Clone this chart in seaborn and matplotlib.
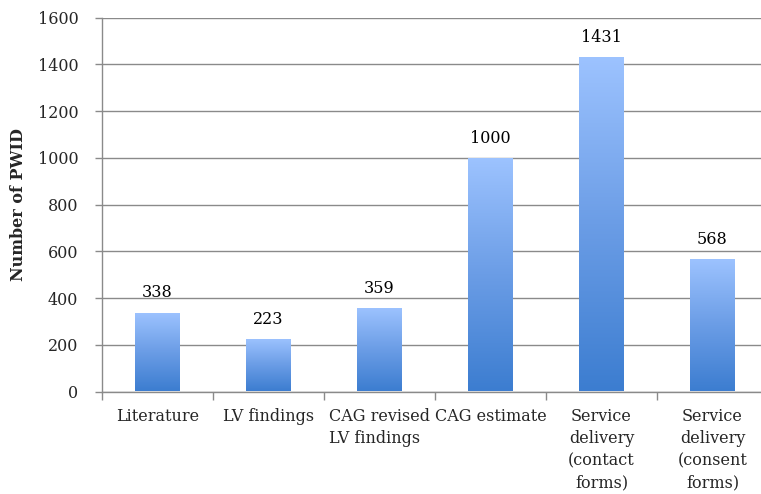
import numpy as np
import pandas as pd
import matplotlib
matplotlib.use("Agg")
import matplotlib.pyplot as plt
import seaborn as sns
from matplotlib.colors import LinearSegmentedColormap

categories = ["Literature", "LV findings", "CAG revised\nLV findings", "CAG estimate",
              "Service\ndelivery\n(contact\nforms)", "Service\ndelivery\n(consent\nforms)"]
values = [338, 223, 359, 1000, 1431, 568]
yticks = [0, 200, 400, 600, 800, 1000, 1200, 1400, 1600]

sns.set_theme(style="white")
plt.rcParams['font.family'] = ['DejaVu Serif']
plt.rcParams['font.size'] = 11.5

df = pd.DataFrame({"cat": categories, "val": values})

fig = plt.figure(figsize=(7.61, 4.94), dpi=100)
ax = fig.add_axes([102/761, (494-391.5)/494, 666/761, 373.8/494])

sns.barplot(data=df, x="cat", y="val", ax=ax, width=0.405, color="#6a9be6", saturation=1)

cmap = LinearSegmentedColormap.from_list("g", ["#3c7dd0", "#6b9de6", "#9dc3ff"])
grad = np.linspace(0, 1, 256).reshape(-1, 1)
for p in ax.patches:
    x0, y0 = p.get_x(), p.get_y()
    w, h = p.get_width(), p.get_height()
    im = ax.imshow(grad, cmap=cmap, origin="lower", aspect="auto",
                   extent=[x0, x0 + w, y0, y0 + h], zorder=2)
    im.set_clip_path(p)
    p.set_facecolor("none")
    p.set_edgecolor("none")
    ax.annotate(f"{int(h)}", (x0 + w / 2, h), xytext=(0, 8), textcoords="offset points",
                ha="center", va="bottom", fontsize=11.5, color="black")

ax.set_xlim(-0.5, 5.5)
ax.set_ylim(0, 1600)
ax.set_yticks(yticks)
ax.set_yticklabels([str(t) for t in yticks])
ax.yaxis.grid(True, color="#8a8a8a", linewidth=1)
ax.set_axisbelow(True)

ax.set_xticks(np.arange(-0.5, 6, 1))
ax.set_xticklabels([])
ax.set_xticks(np.arange(0, 6), minor=True)
ax.set_xticklabels(categories, minor=True)
for lab in ax.get_xticklabels(minor=True):
    lab.set_multialignment("center")
    lab.set_linespacing(1.38)
ax.get_xticklabels(minor=True)[2].set_multialignment("left")
ax.tick_params(axis="x", which="major", length=6, width=1, color="#8a8a8a", direction="out", bottom=True)
ax.tick_params(axis="x", which="minor", length=0, pad=12, labelsize=11.5)
ax.tick_params(axis="y", length=5, width=1, color="#8a8a8a", direction="out", left=True, pad=12, labelsize=11.5)

ax.set_xlabel("")
ax.set_ylabel("Number of PWID", fontweight="bold", fontsize=11.5)
ax.yaxis.set_label_coords(-0.113, 0.5)

for s in ["top", "right"]:
    ax.spines[s].set_visible(False)
for s in ["left", "bottom"]:
    ax.spines[s].set_color("#8a8a8a")
    ax.spines[s].set_linewidth(1)

fig.savefig("out.png", dpi=100)
